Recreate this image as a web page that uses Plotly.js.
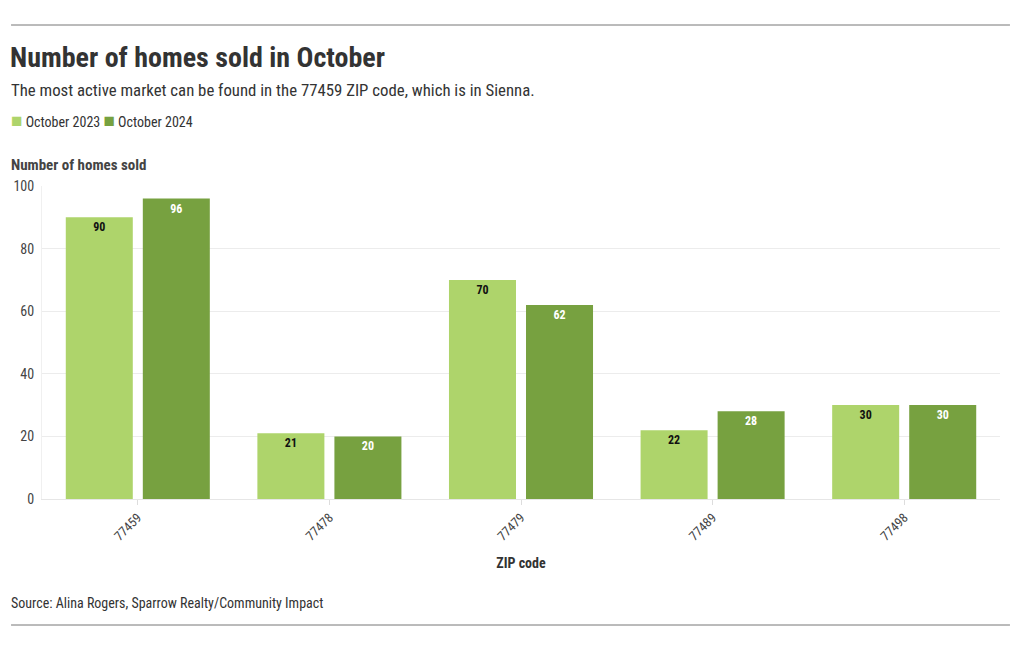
<!DOCTYPE html>
<html>
<head>
<meta charset="utf-8">
<script src="https://cdn.plot.ly/plotly-3.0.1.min.js"></script>
<style>html,body{margin:0;padding:0;background:#fff;}#chart{width:1020px;height:650px;}</style>
</head>
<body>
<div id="chart"></div>
<script>
const zipCodes = ["77459", "77478", "77479", "77489", "77498"];
const oct2023 = [90, 21, 70, 22, 30];
const oct2024 = [96, 20, 62, 28, 30];
const seriesNames = ["October 2023", "October 2024"];
const yTicks = [0, 20, 40, 60, 80, 100];

const FONT = "Roboto Condensed, Roboto, sans-serif";
const lightGreen = "#aed46b";
const darkGreen = "#77a140";
const X0 = -0.0345;

const traces = [
  {
    type: "bar", name: seriesNames[0], x: zipCodes, y: oct2023,
    marker: {color: lightGreen},
    text: oct2023.map(String), textposition: "inside", insidetextanchor: "end",
    textangle: 0,
    textfont: {family: FONT, size: 12, color: "#111", weight: 700},
    hoverinfo: "none"
  },
  {
    type: "bar", name: seriesNames[1], x: zipCodes, y: oct2024,
    marker: {color: darkGreen},
    text: oct2024.map(String), textposition: "inside", insidetextanchor: "end",
    textangle: 0,
    textfont: {family: FONT, size: 12, color: "#fff", weight: 700},
    hoverinfo: "none"
  }
];

const sq = c => "<span style='color:" + c + ";font-size:19px'>■</span>";
const legendText = sq(lightGreen) + " " + seriesNames[0] + " " + sq(darkGreen) + " " + seriesNames[1];

const layout = {
  width: 1020, height: 650,
  margin: {l: 42, r: 20, t: 186, b: 151},
  paper_bgcolor: "#fff", plot_bgcolor: "#fff",
  font: {family: FONT, color: "#333", size: 14},
  showlegend: false,
  title: {text: "<b>Number of homes sold in October</b>", xref: "container", x: 10 / 1020, xanchor: "left",
    yref: "container", y: 1 - 57 / 650, yanchor: "middle",
    font: {family: FONT, size: 28, color: "#333"}},
  bargap: 0.196, bargroupgap: 0.13,
  uniformtext: {mode: "show", minsize: 12},
  xaxis: {
    type: "category", tickangle: -45,
    tickfont: {family: FONT, size: 13, color: "#444"},
    ticks: "outside", ticklen: 5, tickcolor: "#ddd",
    showline: true, linecolor: "#e6e6e6", showgrid: false,
    title: {text: "ZIP code", font: {family: FONT, size: 14, color: "#333", weight: 700}, standoff: 15}
  },
  yaxis: {
    range: [0, 100], tickvals: yTicks,
    tickfont: {family: FONT, size: 14, color: "#444"},
    showgrid: true, gridcolor: "#ececec", zeroline: true, zerolinecolor: "#e6e6e6",
    showline: true, linecolor: "#f0f0f0", ticks: "", ticklabelstandoff: 4,
    fixedrange: true
  },
  shapes: [
    {type: "line", xref: "paper", yref: "paper", x0: -0.0323, x1: 1.0104,
     ysizemode: "pixel", yanchor: 1, y0: 161, y1: 161, line: {color: "#777", width: 1}},
    {type: "line", xref: "paper", yref: "paper", x0: -0.0323, x1: 1.0104,
     ysizemode: "pixel", yanchor: 0, y0: -126, y1: -126, line: {color: "#777", width: 1}}
  ],
  annotations: [
    {text: "The most active market can be found in the 77459 ZIP code, which is in Sienna.", xref: "paper", yref: "paper",
     x: X0, y: 1, yshift: 96, xanchor: "left", yanchor: "middle", showarrow: false,
     font: {family: FONT, size: 16.8, color: "#333"}},
    {text: legendText, xref: "paper", yref: "paper",
     x: X0, y: 1, yshift: 66, xanchor: "left", yanchor: "middle", showarrow: false,
     font: {family: FONT, size: 14, color: "#333"}},
    {text: "<b>Number of homes sold</b>", xref: "paper", yref: "paper", x: X0, y: 1, yshift: 21,
     xanchor: "left", yanchor: "middle", showarrow: false, font: {family: FONT, size: 15, color: "#444"}},
    {text: "Source: Alina Rogers, Sparrow Realty/Community Impact", xref: "paper", yref: "paper",
     x: X0, y: 0, yshift: -104, xanchor: "left", yanchor: "middle", showarrow: false,
     font: {family: FONT, size: 14, color: "#333"}}
  ]
};

Plotly.newPlot("chart", traces, layout, {displayModeBar: false, staticPlot: true});
</script>
</body>
</html>
